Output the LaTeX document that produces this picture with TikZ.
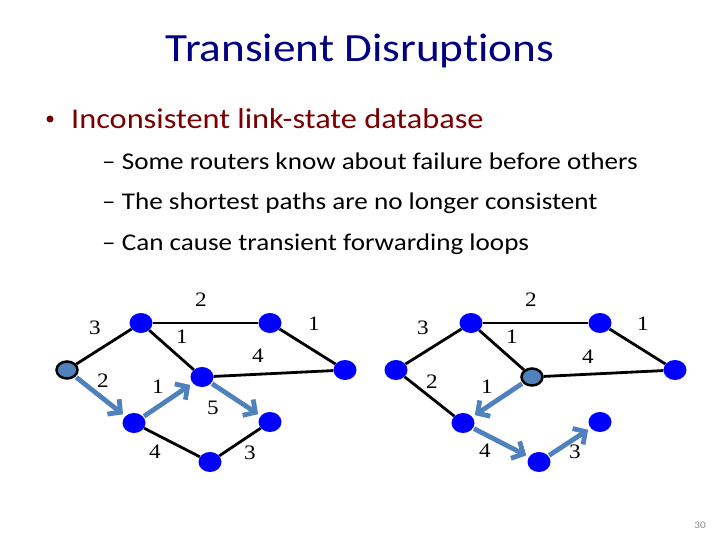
\documentclass[tikz,border=0pt]{standalone}
\usepackage{fontspec}
\setmainfont{Carlito}[FakeStretch=1.13,Ligatures=NoCommon]
\newfontfamily\wfont{Liberation Serif}[FakeStretch=1.13]
\usepackage{tikz}
\usetikzlibrary{arrows.meta, shapes.geometric}
\definecolor{titleblue}{HTML}{000080}
\definecolor{darkred}{HTML}{7A0000}
\definecolor{pathblue}{HTML}{4F81BD}
\definecolor{nodeblue}{HTML}{0000FF}
\definecolor{pagegray}{HTML}{8C8C8C}
\tikzstyle{router}=[ellipse,fill=nodeblue,inner sep=0pt,
  minimum width=23pt,minimum height=20pt]
\tikzstyle{failed}=[ellipse,fill=pathblue,draw=black,line width=2.5pt,
  inner sep=0pt,minimum width=21pt,minimum height=17pt]
\tikzstyle{link}=[line width=2.8pt,color=black]
\tikzstyle{fwd}=[-{Straight Barb[length=9pt,width=19pt]},line width=4.8pt,
  color=pathblue,shorten >=3pt,shorten <=1pt]
\tikzstyle{wt}=[font=\wfont\fontsize{20.5}{20.5}\selectfont,inner sep=0pt]
\tikzstyle{line}=[anchor=base west,inner sep=0pt,font=\fontsize{24}{24}\selectfont]

\begin{document}
\begin{tikzpicture}[x=1pt,y=-1pt]
  \useasboundingbox (0,0) rectangle (720,540);
  \node[anchor=base,inner sep=0pt,text=titleblue,font=\fontsize{40}{40}\selectfont] (title) at (360,62) {Transient Disruptions};
  \node[circle,fill=darkred,inner sep=0pt,minimum size=7pt] (dot) at (50,119) {};
  \node[anchor=base west,inner sep=0pt,text=darkred,font=\fontsize{28.6}{28.6}\selectfont] (main) at (71,129) {Inconsistent link-state database};
  \node[line] (sub1) at (102,170) {– Some routers know about failure before others};
  \node[line] (sub2) at (102,210) {– The shortest paths are no longer consistent};
  \node[line] (sub3) at (102,251) {– Can cause transient forwarding loops};
  % left network
  \node[failed] (lS) at (67,370) {};
  \node[router] (lA) at (141,323) {};
  \node[router] (lB) at (270,323) {};
  \node[router] (lC) at (345,370) {};
  \node[router] (lD) at (202,377) {};
  \node[router] (lE) at (134,423) {};
  \node[router] (lF) at (270,422) {};
  \node[router] (lG) at (210,462) {};
  \draw[link] (lS) -- (lA);
  \draw[link] (lA) -- (lB);
  \draw[link] (lA) -- (lD);
  \draw[link] (lB) -- (lC);
  \draw[link] (lD) -- (lC);
  \draw[link] (lE) -- (lG);
  \draw[link] (lG) -- (lF);
  \draw[fwd] (lS) -- (lE);
  \draw[fwd] (lE) -- (lD);
  \draw[fwd] (lD) -- (lF);
  \node[wt] (lwSA) at (95,328) {3};
  \node[wt] (lwAB) at (201,300) {2};
  \node[wt] (lwAD) at (182,337) {1};
  \node[wt] (lwBC) at (314,324) {1};
  \node[wt] (lwDC) at (258,356) {4};
  \node[wt] (lwSE) at (103,381) {2};
  \node[wt] (lwED) at (158,387) {1};
  \node[wt] (lwDF) at (213,408) {5};
  \node[wt] (lwEG) at (155,452) {4};
  \node[wt] (lwGF) at (250,453) {3};
  % right network
  \node[router] (rS) at (396,370) {};
  \node[router] (rA) at (471,323) {};
  \node[router] (rB) at (600,323) {};
  \node[router] (rC) at (675,370) {};
  \node[failed] (rD) at (532,377) {};
  \node[router] (rE) at (463,423) {};
  \node[router] (rF) at (600,422) {};
  \node[router] (rG) at (539,462) {};
  \draw[link] (rS) -- (rA);
  \draw[link] (rA) -- (rB);
  \draw[link] (rA) -- (rD);
  \draw[link] (rB) -- (rC);
  \draw[link] (rD) -- (rC);
  \draw[link] (rS) -- (rE);
  \draw[fwd] (rD) -- (rE);
  \draw[fwd] (rE) -- (rG);
  \draw[fwd] (rG) -- (rF);
  \node[wt] (rwSA) at (423,328) {3};
  \node[wt] (rwAB) at (531,300) {2};
  \node[wt] (rwAD) at (512,337) {1};
  \node[wt] (rwBC) at (643,324) {1};
  \node[wt] (rwDC) at (588,357) {4};
  \node[wt] (rwSE) at (432,382) {2};
  \node[wt] (rwDE) at (487,387) {1};
  \node[wt] (rwEG) at (485,451) {4};
  \node[wt] (rwGF) at (575,452) {3};
  \node[text=pagegray,font=\fontsize{10}{10}\selectfont,inner sep=0pt] (page) at (700,525) {30};
\end{tikzpicture}
\end{document}
